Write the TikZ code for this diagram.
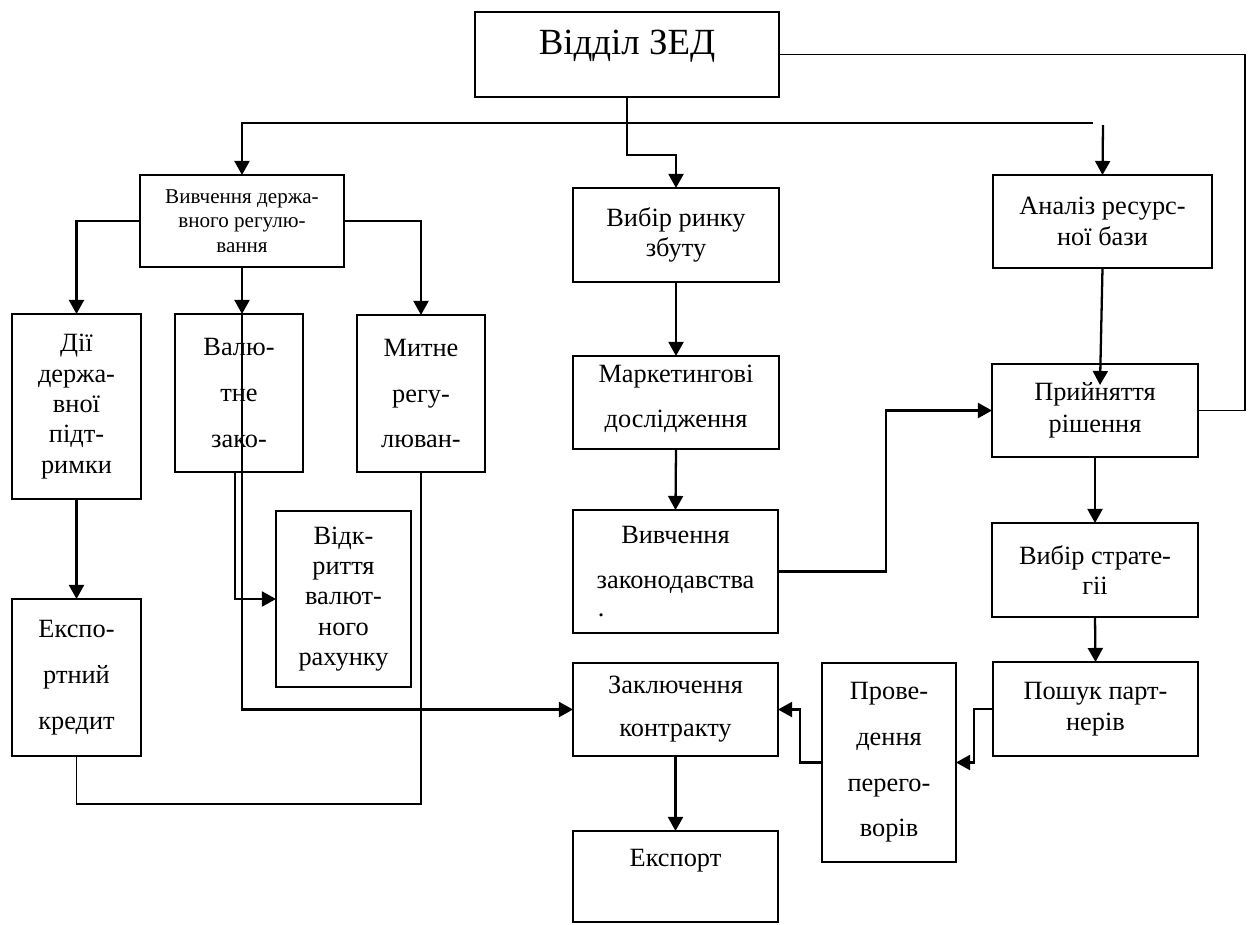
\documentclass[tikz,border=0pt]{standalone}
\usepackage{fontspec}
\setmainfont{Liberation Serif}
\usetikzlibrary{arrows.meta}
\tikzset{
  box/.style={draw, line width=0.9pt, inner sep=0pt, outer sep=0pt, align=center,
              font=\fontsize{15}{17.3}\selectfont},
  dbl/.style={font=\fontsize{15}{26}\selectfont},
  mid/.style={font=\fontsize{15}{24.4}\selectfont},
  small/.style={font=\fontsize{12}{13.8}\selectfont},
  big/.style={font=\fontsize{21}{25}\selectfont},
  arr/.style={line width=1.3pt, -{Triangle[length=8pt,width=8.5pt]}},
  conn/.style={line width=1.3pt},
  thinl/.style={line width=0.8pt},
}
% name, x1, y1, x2, y2, style, text
\newcommand\bx[7]{\node[box,#6,minimum width={(#4-#2)*0.02cm},minimum height={(#5-#3)*0.02cm}] (#1) at ({(#2+#4)/2},{(#3+#5)/2}) {#7};}
\begin{document}
\begin{tikzpicture}[x=0.02cm,y=-0.02cm]
\useasboundingbox[fill=white] (0,0) rectangle (1248,924);

\bx{zed}{475}{12}{779}{97}{big,text depth=14pt}{Відділ ЗЕД}
\bx{vdr}{140}{175}{344}{267}{small}{Вивчення держа-\\вного регулю-\\вання}
\bx{dii}{12}{314}{141}{499}{}{Дії\\держа-\\вної\\підт-\\римки}
\bx{val}{175}{314}{303}{472}{dbl}{Валю-\\тне\\зако-}
\bx{mit}{357}{315}{485}{472}{dbl}{Митне\\регу-\\люван-}
\bx{vid}{276}{511}{411}{687}{}{Відк-\\риття\\валют-\\ного\\рахунку}
\bx{exk}{12}{599}{141}{756}{dbl}{Експо-\\ртний\\кредит}
\bx{vib}{573}{188}{779}{282}{}{Вибір ринку\\збуту}
\bx{mrk}{573}{356}{779}{449}{dbl,text depth=7pt}{Маркетингові\\дослідження}
\bx{zkn}{573}{510}{778}{633}{dbl}{Вивчення\\законодавства\\[-10pt]\makebox[0pt][r]{.\hspace{1.42cm}}}
\bx{zak}{573}{663}{778}{756}{mid}{Заключення\\контракту}
\bx{eksp}{573}{831}{778}{922}{text depth=21pt}{Експорт}
\bx{anl}{993}{175}{1212}{268}{}{Аналіз ресурс-\\ної бази}
\bx{pr}{992}{364}{1198}{457}{font=\fontsize{15}{18}\selectfont}{Прийняття\\рішення}
\bx{str}{992}{523}{1198}{617}{}{Вибір страте-\\гіі}
\bx{posh}{993}{662}{1198}{756}{}{Пошук парт-\\нерів}
\bx{prov}{822}{663}{956}{862}{dbl}{Прове-\\дення\\перего-\\ворів}

% free ends
\coordinate (hl) at (1093,123);
\coordinate (hr) at (1103,125);
\coordinate (re) at (1245,410.5);
\coordinate (zk) at (886,571.5);
\coordinate (pin) at (1100,385);
\coordinate (pk) at (974,709);
\coordinate (pv) at (800,762.5);
\coordinate (lp) at (76.5,804);
\coordinate (zb) at (627,155);

% top
\draw[arr] (zed.south) -- (zb) -| (vib.north);
\draw[arr] (hl) -| (vdr.north);
\draw[arr] (hr) -- (anl.north);
\draw[thinl] (zed.east) -| (re) -- (pr.east);

% state regulation branch
\draw[arr] (vdr.west) -| (dii.north);
\draw[arr] (vdr.east) -| (mit.north);
\draw[arr] (vdr.south) -- (vdr.south |- val.north);
\draw[arr] (vdr.south |- val.north) -- (vdr.south |- zak.west) -- (zak.west);
\draw[arr] ([xshift=-0.08cm]val.south) |- (vid.west);
\draw[arr] (dii.south) -- (exk.north);
\draw[thinl] (exk.south) -- (lp) -| (mit.south);

% middle column
\draw[arr] (vib.south) -- (mrk.north);
\draw[arr] (mrk.south) -- (zkn.north);
\draw[arr] (zkn.east) -- (zk) |- (pr.west);
\draw[arr] (zak.south) -- (eksp.north);

% right column
\draw[arr] (anl.south) -- (pin);
\draw[arr] (pr.south) -- (str.north);
\draw[arr] (str.south) -- (posh.north);
\draw[arr] (posh.west) -- (pk) |- (prov.east);
\draw[arr] (prov.west) -- (pv) |- (zak.east);
\end{tikzpicture}
\end{document}
